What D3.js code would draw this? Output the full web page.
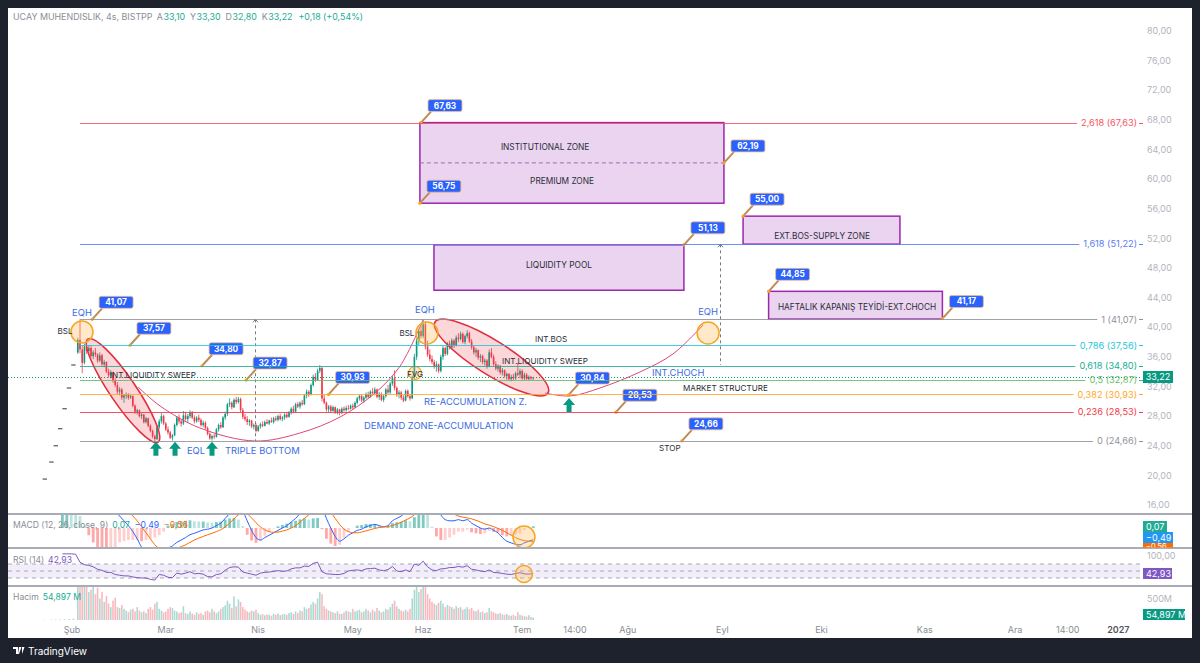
<!DOCTYPE html>
<html><head><meta charset="utf-8">
<script src="https://cdn.jsdelivr.net/npm/d3@7"></script>
<style>
html,body{margin:0;padding:0;background:#1e222d;}
svg{display:block;font-family:Inter,"Noto Sans",sans-serif;}
</style></head><body>
<svg id="c" width="1200" height="663"></svg>
<script>
// ---------------- DATA ----------------
const header = {name:"UCAY MUHENDISLIK, 4s, BISTPP", o:"33,10", h:"33,30", l:"32,80", c:"33,22", chg:"+0,18 (+0,54%)"};
const lastPrice = 33.22;
// sparse pre-listing bars [barIndex, price]
const preBars = [[-16,19.5],[-13,21.8],[-11,24.0],[-9,26.3],[-7,29.0],[-5,31.8],[-3,34.9]];
const preVolume = [6,8,10,12,15,20,28];
const candleStart = -1;
// [open, high, low, close]
const candles = [
[36.6,38.6,36.4,38.3],[38.3,41.07,36.5,37.0],[37.0,37.6,33.8,35.2],[35.2,37.8,35.0,37.4],[37.4,38.0,36.4,36.8],
[36.8,37.6,36.2,37.2],[37.2,37.5,35.9,36.1],[36.1,36.9,35.7,36.6],[36.6,37.2,36.0,36.3],[36.3,36.5,35.2,35.5],
[35.5,36.6,35.3,36.2],[36.2,36.4,34.8,35.0],[35.0,35.6,34.6,35.3],[35.3,35.4,33.8,34.0],[34.0,34.4,33.2,33.5],
[33.5,34.2,33.1,33.9],[33.9,34.0,32.5,32.8],[32.8,33.2,31.9,32.2],[32.2,32.6,31.0,31.3],[31.3,31.9,30.8,31.6],
[31.6,31.8,30.2,30.5],[30.5,31.0,29.8,30.8],[30.8,31.2,30.3,30.9],[30.9,31.1,30.2,30.5],[30.5,31.0,30.3,30.7],
[30.7,30.8,29.2,29.4],[29.4,29.6,28.3,28.6],[28.6,29.0,28.2,28.8],[28.8,28.9,27.8,28.0],[28.0,28.4,27.6,28.2],
[28.2,28.3,27.0,27.2],[27.2,27.9,27.0,27.7],[27.7,27.8,26.5,26.7],[26.7,26.9,25.8,26.0],[26.0,26.2,25.0,25.3],
[25.3,25.5,24.66,24.9],[24.9,26.8,24.8,26.5],[26.5,27.6,26.2,27.3],[27.3,28.4,27.0,28.0],[28.0,28.2,26.8,27.0],
[27.0,27.2,26.0,26.2],[26.2,26.6,25.5,25.8],[25.8,26.0,24.9,25.1],[25.1,25.6,24.7,25.4],[25.4,27.0,25.3,26.8],
[26.8,28.0,26.6,27.8],[27.8,28.2,27.0,27.3],[27.3,27.6,26.6,27.0],[27.0,28.7,26.8,28.1],[28.1,28.6,27.4,27.6],
[27.6,28.3,27.2,28.0],[28.0,28.8,27.7,28.5],[28.5,28.7,27.6,27.8],[27.8,28.1,27.0,27.3],[27.3,28.0,27.1,27.8],
[27.8,28.2,27.2,27.5],[27.5,27.7,26.6,26.8],[26.8,27.4,26.5,27.1],[27.1,27.3,26.2,26.4],[26.4,26.6,25.4,25.6],
[25.6,25.8,24.8,25.0],[25.0,25.5,24.7,25.3],[25.3,25.6,24.9,25.2],[25.2,26.4,25.1,26.2],[26.2,27.0,25.9,26.8],
[26.8,27.2,26.3,26.5],[26.5,28.0,26.4,27.8],[27.8,28.6,27.5,28.3],[28.3,29.8,28.0,29.6],[29.6,30.4,29.2,29.8],
[29.8,30.0,28.9,29.2],[29.2,30.4,29.1,30.2],[30.2,30.6,29.6,29.9],[29.9,30.6,29.7,30.3],[30.3,30.5,28.5,28.8],
[28.8,29.1,27.6,27.9],[27.9,28.3,27.3,27.6],[27.6,28.0,26.8,27.2],[27.2,27.6,26.7,27.4],[27.4,27.5,26.4,26.6],
[26.6,27.0,26.2,26.8],[26.8,27.0,25.8,26.0],[26.0,26.8,25.9,26.6],[26.6,27.1,26.3,26.9],[26.9,27.3,26.5,26.7],
[26.7,27.4,26.6,27.2],[27.2,27.6,26.9,27.0],[27.0,27.5,26.8,27.4],[27.4,27.8,27.1,27.2],[27.2,27.9,27.0,27.7],
[27.7,28.0,27.3,27.5],[27.5,28.2,27.3,28.0],[28.0,28.3,27.4,27.6],[27.6,28.0,27.3,27.8],[27.8,28.4,27.5,28.2],
[28.2,28.5,27.7,27.9],[27.9,28.7,27.8,28.5],[28.5,29.2,28.2,29.0],[29.0,29.4,28.4,28.6],[28.6,29.8,28.5,29.6],
[29.6,29.9,29.1,29.3],[29.3,30.0,29.0,29.8],[29.8,30.2,29.4,29.6],[29.6,31.0,29.5,30.8],[30.8,31.6,30.4,31.3],
[31.3,31.5,30.6,30.9],[30.9,32.4,30.8,32.2],[32.2,33.6,32.0,33.3],[33.3,33.8,32.6,32.9],[32.9,34.4,32.8,34.1],
[34.1,34.9,33.8,34.5],[34.5,34.7,30.0,30.4],[30.4,30.9,29.6,29.8],[29.8,30.0,28.6,28.9],[28.9,29.5,28.5,29.3],
[29.3,29.5,28.4,28.7],[28.7,29.4,28.6,29.2],[29.2,29.3,28.3,28.5],[28.5,29.1,28.2,28.9],[28.9,29.0,28.1,28.4],
[28.4,29.2,28.3,29.0],[29.0,29.3,28.6,28.8],[28.8,29.4,28.6,29.1],[29.1,29.5,28.8,29.0],[29.0,29.6,28.9,29.4],
[29.4,29.7,28.9,29.2],[29.2,30.0,29.1,29.8],[29.8,30.6,29.6,30.4],[30.4,30.9,30.1,30.7],[30.7,30.9,29.9,30.1],
[30.1,30.7,29.8,30.5],[30.5,31.2,30.3,31.0],[31.0,31.3,30.4,30.6],[30.6,31.5,30.5,31.3],[31.3,31.8,30.9,31.1],
[31.1,31.9,30.8,31.6],[31.6,31.7,30.4,30.6],[30.6,31.3,30.2,31.0],[31.0,31.2,30.0,30.2],[30.2,30.9,29.9,30.7],
[30.7,31.8,30.5,31.6],[31.6,32.2,31.0,31.2],[31.2,32.6,31.0,32.4],[32.4,33.4,32.1,33.1],[33.1,34.2,31.5,31.8],
[31.8,32.0,30.6,30.9],[30.9,31.5,30.4,31.2],[31.2,31.4,30.2,30.5],[30.5,30.8,29.9,30.1],[30.1,31.6,30.0,31.4],
[31.4,31.6,30.5,30.7],[30.7,31.0,30.1,30.4],[30.4,33.5,30.3,33.3],[33.3,36.4,33.0,36.0],[36.0,38.5,35.6,38.2],
[38.2,39.8,37.6,39.5],[39.5,40.5,38.5,38.8],[38.8,41.07,38.5,40.4],[40.4,40.8,37.0,37.4],[37.4,38.2,36.0,36.3],
[36.3,37.0,35.4,35.7],[35.7,36.2,35.0,35.3],[35.3,35.6,34.4,34.7],[34.7,35.4,34.0,35.0],[35.0,35.1,33.8,34.1],
[34.1,36.3,33.9,36.0],[36.0,37.5,35.6,37.2],[37.2,37.4,36.1,36.4],[36.4,38.0,36.2,37.8],[37.8,38.2,37.0,37.3],
[37.3,38.5,37.1,38.2],[38.2,38.4,37.2,37.5],[37.5,38.9,37.4,38.6],[38.6,39.2,38.0,38.4],[38.4,39.4,38.2,39.1],
[39.1,39.3,37.8,38.0],[38.0,39.0,37.7,38.8],[38.8,39.6,38.5,39.2],[39.2,39.4,37.9,38.1],[38.1,38.4,37.0,37.3],
[37.3,37.6,36.3,36.6],[36.6,37.2,36.0,36.9],[36.9,37.0,35.6,35.9],[35.9,36.4,35.3,36.1],[36.1,36.3,35.0,35.3],
[35.3,35.8,34.8,35.5],[35.5,35.7,34.4,34.7],[34.7,37.0,34.6,36.6],[36.6,37.2,35.8,36.0],[36.0,36.3,34.8,35.0],
[35.0,35.4,34.2,34.4],[34.4,35.0,34.0,34.8],[34.8,34.9,33.6,33.9],[33.9,34.5,33.5,34.2],[34.2,34.3,33.2,33.4],
[33.4,33.9,32.9,33.7],[33.7,33.8,32.8,33.0],[33.0,33.6,32.7,33.3],[33.3,33.7,32.8,33.1],[33.1,34.0,32.9,33.8],
[33.8,35.2,33.4,33.6],[33.6,34.4,33.1,34.1],[34.1,34.3,32.9,33.1],[33.1,33.9,32.9,33.6],[33.6,33.8,32.9,33.0],
[33.0,33.5,32.8,33.3],[33.3,33.4,32.9,33.1],[33.10,33.30,32.80,33.22]
];
// volume in millions, one per candle
const volume = [
950,1400,1100,800,900,650,700,800,600,750,
500,650,420,560,380,300,450,520,300,280,
350,260,220,180,240,260,200,300,220,180,
200,160,260,300,240,380,420,260,220,180,
200,260,300,280,220,200,160,180,320,160,
140,200,150,120,180,140,160,120,200,220,
180,260,200,160,200,260,300,340,450,380,
280,550,320,480,420,300,240,200,180,220,
200,240,160,120,140,110,130,120,100,140,
120,150,110,130,140,120,160,180,140,200,
160,220,200,300,260,280,360,420,380,500,
650,600,320,260,220,200,180,160,200,150,
140,180,220,200,180,260,200,220,240,180,
200,260,220,180,240,200,280,220,180,200,
260,240,300,380,450,320,260,220,200,240,
200,260,500,700,800,650,720,800,900,600,
500,420,380,350,400,450,380,300,350,320,
300,260,320,280,300,240,260,300,250,280,
220,200,240,180,200,160,180,280,200,180,
150,140,160,130,120,140,110,100,120,90,
180,120,100,90,80,110,70,55
];
// indicators sampled every 2 bars, starting at bar -8
const indStart = -8, indStep = 2;
const macdLine = [2.0,2.4,2.7,2.9,2.8,2.5,2.2,1.9,1.6,1.3,1.1,0.9,0.7,0.5,0.3,0.1,-0.15,-0.45,-0.8,-1.0,-1.2,-1.4,-1.3,-1.1,-0.85,-0.75,-0.6,-0.5,-0.4,-0.28,-0.22,-0.15,-0.08,-0.05,0.0,0.1,0.2,0.4,0.6,0.8,0.9,0.7,0.3,-0.1,-0.4,-0.5,-0.4,-0.3,-0.2,-0.1,0.0,0.1,0.25,0.4,0.6,0.8,0.9,1.1,1.3,0.9,0.4,0.0,-0.35,-0.55,-0.45,-0.3,-0.2,-0.1,-0.05,0.05,0.1,0.15,0.1,0.05,0.1,0.3,0.4,0.5,0.65,0.7,1.0,1.4,1.9,2.0,1.4,0.9,0.55,0.35,0.3,0.3,0.35,0.3,0.35,0.2,0.1,0.0,-0.05,0.0,-0.1,-0.2,-0.4,-0.55,-0.62,-0.68,-0.7,-0.62,-0.55,-0.49];
const signalLine = [1.0,1.4,1.8,2.1,2.3,2.4,2.35,2.25,2.1,1.9,1.7,1.5,1.3,1.1,0.9,0.7,0.5,0.3,0.05,-0.2,-0.45,-0.7,-0.85,-0.95,-0.95,-0.92,-0.85,-0.78,-0.7,-0.6,-0.5,-0.42,-0.35,-0.28,-0.22,-0.15,-0.07,0.05,0.2,0.38,0.55,0.62,0.58,0.42,0.22,0.05,-0.08,-0.15,-0.18,-0.17,-0.13,-0.08,0.0,0.1,0.24,0.4,0.55,0.7,0.88,0.95,0.85,0.65,0.4,0.15,-0.05,-0.15,-0.2,-0.2,-0.17,-0.12,-0.07,-0.02,0.02,0.04,0.06,0.1,0.16,0.24,0.33,0.42,0.55,0.75,1.0,1.25,1.35,1.25,1.05,0.85,0.7,0.58,0.5,0.45,0.42,0.38,0.32,0.25,0.17,0.12,0.06,-0.02,-0.1,-0.2,-0.3,-0.4,-0.48,-0.53,-0.55,-0.56];
const macdHist = [1.0,1.0,0.9,0.8,0.5,0.1,-0.3,-0.6,-0.85,-0.95,-1.0,-0.95,-0.9,-0.6,-0.55,-0.5,-0.5,-0.5,-0.55,-0.5,-0.45,-0.4,-0.3,-0.15,0.1,0.17,0.25,0.28,0.3,0.32,0.28,0.27,0.27,0.23,0.22,0.25,0.27,0.35,0.4,0.42,0.35,0.08,-0.28,-0.52,-0.62,-0.55,-0.32,-0.15,-0.02,0.07,0.13,0.18,0.25,0.3,0.36,0.4,0.35,0.4,0.42,-0.05,-0.45,-0.65,-0.75,-0.7,-0.4,-0.15,0.0,0.1,0.12,0.17,0.17,0.17,0.08,0.01,0.04,0.2,0.24,0.26,0.32,0.28,0.45,0.65,0.9,0.75,0.05,-0.35,-0.5,-0.5,-0.4,-0.28,-0.15,-0.15,-0.07,-0.18,-0.22,-0.25,-0.22,-0.12,-0.16,-0.18,-0.3,-0.35,-0.32,-0.28,-0.22,-0.09,0.0,0.07];
const rsiLine = [99,99,99,98,75,68,66,62,55,52,46,46,40,38,36,36,33,31,30,30,26,24,40,38,32,31,44,41,44,48,42,43,41,34,33,40,42,52,60,62,61,47,44,41,38,44,46,47,49,51,49,50,56,59,59,64,63,72,75,48,42,41,40,40,43,50,52,53,51,56,57,58,53,51,54,63,50,48,53,48,70,66,78,62,53,51,56,57,60,60,63,61,65,55,53,50,48,53,46,45,43,41,40,43,45,42,41,42.93];
const macdLabels = {hist:"0,07", macd:"−0,49", signal:"−0,56"};
const rsiLabel = "42,93", volLabel = "54,897 M";

// Fibonacci levels
const fibRatio = ["2,618","1,618","1","0,786","0,618","0,5","0,382","0,236","0"];
const fibPrice = [67.63,51.22,41.07,37.56,34.80,32.87,30.93,28.53,24.66];
const fibColor = ["#f7525f","#5b7cf0","#8f929b","#26c6da","#22ab94","#66bb6a","#ffa726","#f23645","#8f929b"];

// price axis & time axis
const priceTicks = [80,76,72,68,64,60,56,52,48,44,40,36,32,28,24,20,16];
const timeTickIdx = [-3.6,39,81,124,156,201,225,249,292,337,384,425,449,472];
const timeTickLabel = ["Şub","Mar","Nis","May","Haz","Tem","14:00","Ağu","Eyl","Eki","Kas","Ara","14:00","2027"];

// Annotations (bar index, price)
const priceNotes = [[5.5,41.07],[22.7,37.57],[55.5,34.80],[75.5,32.87],[113,30.93],[155,67.63],[154.5,56.75],[292.7,62.19],[274.5,51.13],[301.4,55.00],[313,44.85],[392,41.17],[222,30.84],[243.6,28.53],[273.6,24.66]];
const zones = [ // [i1, i2, pTop, pBottom]
  [154.5,292.7,67.63,56.75],
  [160.9,274.5,51.13,45.0],
  [301.4,372.7,55.0,51.22],
  [313,392,44.85,41.1]
];
const zoneMid = [154.5,292.7,62.19];
const zoneText = [["INSTITUTIONAL ZONE",211.4,64.34],["PREMIUM ZONE",219.1,59.75],["LIQUIDITY POOL",217.7,48.4],["EXT.BOS-SUPPLY ZONE",337.3,52.32],["HAFTALIK KAPANIŞ TEYİDİ-EXT.CHOCH",353.2,42.73]];
const ellipses = [[3.6,38.41,35.5,24.5],[161.4,40.71,212.7,31.12]];
const cupCurve = [[26.4,31.93],[36.4,29.37],[54.5,26.4],[79.5,24.64],[100,25.72],[118.2,27.88],[134.1,31.12],[145.5,34.77],[155.9,40.98]];
const chochCurve = [[211.4,31.12],[222.7,30.72],[236.4,31.8],[254.5,33.96],[269.5,36.39],[283.2,40.3]];
const circles = [[0.9,39.36],[157.7,39.22],[285.5,39.22]];
const fvgCircle = [152.3,33.82];
const upArrows = [[34.5,24.66],[43.2,24.66],[60,24.66],[222.3,30.58]];
const vLines = [[79.5,41.07,24.66],[290.9,51.2,34.9]];
const darkText = [["BSL",-6.8,39.5,"middle"],["INT.LIQUIDITY SWEEP",13.6,33.55,"start"],["BSL",148.6,39.22,"middle"],["FVG",152.3,33.6,"middle"],["INT.BOS",206.8,38.41,"start"],["INT.LIQUIDITY SWEEP",191.8,35.44,"start"],["MARKET STRUCTURE",274.1,31.8,"start"],["STOP",263.2,23.7,"start"]];
const blueText = [["EQH",0.9,41.9,"middle"],["EQL",52.7,23.3,"middle"],["TRIPLE BOTTOM",65.9,23.3,"start"],["EQH",156.8,42.33,"middle"],["RE-ACCUMULATION Z.",156.4,29.9,"start"],["DEMAND ZONE-ACCUMULATION",129.1,26.67,"start"],["INT.CHOCH",260,33.82,"start"],["EQH",285.5,42.06,"middle"]];

// ---------------- DRAW ----------------
const svg = d3.select('#c');
const fmt = v => v.toFixed(2).replace('.', ',');
svg.append('rect').attr('width',1200).attr('height',663).attr('fill','#1e222d');
svg.append('rect').attr('x',8).attr('y',8).attr('width',1184).attr('height',630).attr('fill','#ffffff');

const x = d3.scaleLinear().domain([-33,480]).range([7.4,1136]);
const y = d3.scaleLinear().domain([16,80]).range([505,31]);
const macdY = d3.scaleLinear().domain([-1,1]).range([552,504]);
const rsiY = d3.scaleLinear().domain([0,100]).range([588.5,553.5]);
const volY = d3.scaleLinear().domain([0,500]).range([620,598.5]);

const defs = svg.append('defs');
function clip(id,x0,y0,w,h){defs.append('clipPath').attr('id',id).append('rect').attr('x',x0).attr('y',y0).attr('width',w).attr('height',h);}
clip('cMain',8,8,1132,505); clip('cMacd',8,515,1132,32); clip('cRsi',8,549,1132,36); clip('cVol',8,587,1132,36);
clip('cMacdAxis',1140,515,52,32.5);

const UP='#089981', DN='#f23645';
const main = svg.append('g').attr('clip-path','url(#cMain)');

// fib lines
const fibG = svg.append('g');
fibPrice.forEach((p,k)=>{
  const t = fibG.append('text').attr('x',1137).attr('y',y(p)).attr('dy','0.35em').attr('text-anchor','end')
    .attr('font-size',9.2).attr('fill',fibColor[k]).text(`${fibRatio[k]} (${fmt(p)})`);
  const w = t.node().getComputedTextLength();
  const yy = Math.round(y(p))+0.5;
  fibG.append('line').attr('x1',x(0)).attr('x2',1137-w-4).attr('y1',yy).attr('y2',yy)
    .attr('stroke',fibColor[k]).attr('stroke-width',1).attr('opacity',0.85);
  fibG.append('line').attr('x1',1139).attr('x2',1143).attr('y1',yy).attr('y2',yy).attr('stroke',fibColor[k]);
});
// last price dotted line
main.append('line').attr('x1',8).attr('x2',1140).attr('y1',Math.round(y(lastPrice))+0.5).attr('y2',Math.round(y(lastPrice))+0.5)
  .attr('stroke',UP).attr('stroke-dasharray','1,2').attr('stroke-width',1);

// pre bars
main.selectAll('.pre').data(preBars).join('line').attr('x1',d=>x(d[0])-2.2).attr('x2',d=>x(d[0])+2.2)
  .attr('y1',d=>y(d[1])).attr('y2',d=>y(d[1])).attr('stroke','#50535e').attr('stroke-width',1.2);
// candles
const cg = main.append('g');
candles.forEach((c,k)=>{
  const i = k+candleStart, col = c[3]>=c[0]?UP:DN, cx=x(i);
  cg.append('line').attr('x1',cx).attr('x2',cx).attr('y1',y(c[1])).attr('y2',y(c[2])).attr('stroke',col).attr('stroke-width',0.8);
  const top = y(Math.max(c[0],c[3])), bot = y(Math.min(c[0],c[3]));
  cg.append('rect').attr('x',cx-0.8).attr('width',1.6).attr('y',top).attr('height',Math.max(0.8,bot-top)).attr('fill',col);
});

// zones
const zg = main.append('g');
zones.forEach(z=>{
  zg.append('rect').attr('x',x(z[0])).attr('y',y(z[2])).attr('width',x(z[1])-x(z[0])).attr('height',y(z[3])-y(z[2]))
    .attr('fill','rgba(156,39,176,0.2)').attr('stroke','#9c27b0').attr('stroke-width',1.5);
});
zg.append('line').attr('x1',x(zoneMid[0])).attr('x2',x(zoneMid[1])).attr('y1',y(zoneMid[2])).attr('y2',y(zoneMid[2]))
  .attr('stroke','#9c6fa8').attr('stroke-dasharray','4,3').attr('stroke-width',1);
zoneText.forEach(t=>zg.append('text').attr('x',x(t[1])).attr('y',y(t[2])).attr('dy','0.35em').attr('text-anchor','middle')
  .attr('font-size',8.3).attr('fill','#2a2e39').text(t[0]));

// ellipses
ellipses.forEach((e,k)=>{
  const x1=x(e[0]),y1=y(e[1]),x2=x(e[2]),y2=y(e[3]);
  const cx=(x1+x2)/2, cy=(y1+y2)/2, a=Math.hypot(x2-x1,y2-y1)/2, ang=Math.atan2(y2-y1,x2-x1)*180/Math.PI;
  main.append('ellipse').attr('cx',0).attr('cy',0).attr('rx',a).attr('ry',k===0?13:17)
    .attr('transform',`translate(${cx},${cy}) rotate(${ang})`)
    .attr('fill','rgba(242,54,69,0.2)').attr('stroke','#e0303e').attr('stroke-width',1.6);
});
// curves
const lineGen = d3.line().x(d=>x(d[0])).y(d=>y(d[1])).curve(d3.curveCatmullRom);
[cupCurve,chochCurve].forEach(c=>main.append('path').attr('d',lineGen(c)).attr('fill','none').attr('stroke','#e0457b').attr('stroke-width',1));
// circles
circles.forEach(c=>main.append('circle').attr('cx',x(c[0])).attr('cy',y(c[1])).attr('r',11)
  .attr('fill','rgba(255,183,77,0.3)').attr('stroke','#f5a623').attr('stroke-width',1.5));
main.append('circle').attr('cx',x(fvgCircle[0])).attr('cy',y(fvgCircle[1])).attr('r',6.5)
  .attr('fill','rgba(255,183,77,0.3)').attr('stroke','#f5a623').attr('stroke-width',1.2);
// vertical dashed
vLines.forEach(v=>{
  const vx=Math.round(x(v[0]))+0.5;
  main.append('line').attr('x1',vx).attr('x2',vx).attr('y1',y(v[1])).attr('y2',y(v[2])).attr('stroke','#787b86').attr('stroke-dasharray','3,3');
  main.append('path').attr('d',`M${vx-2.5},${y(v[1])+3}L${vx},${y(v[1])}L${vx+2.5},${y(v[1])+3}`).attr('fill','none').attr('stroke','#787b86');
});
// arrows
upArrows.forEach(a=>{
  const ax=x(a[0]), ay=y(a[1])+1;
  main.append('path').attr('d',`M${ax},${ay}L${ax+6},${ay+7}L${ax+2.5},${ay+7}L${ax+2.5},${ay+14}L${ax-2.5},${ay+14}L${ax-2.5},${ay+7}L${ax-6},${ay+7}Z`).attr('fill','#089981');
});
// texts
darkText.forEach(t=>main.append('text').attr('x',x(t[1])).attr('y',y(t[2])).attr('dy','0.35em').attr('text-anchor',t[3])
  .attr('font-size',8.1).attr('fill','#2a2e39').text(t[0]));
blueText.forEach(t=>main.append('text').attr('x',x(t[1])).attr('y',y(t[2])).attr('dy','0.35em').attr('text-anchor',t[3])
  .attr('font-size',9.4).attr('fill','#3b6de3').text(t[0]));
// price notes
priceNotes.forEach(n=>{
  const ax=x(n[0]), ay=y(n[1]), bx=ax+7, by=ay-23;
  main.append('line').attr('x1',ax).attr('y1',ay).attr('x2',bx+3).attr('y2',by+12).attr('stroke','#bf8c55').attr('stroke-width',2);
  main.append('rect').attr('x',bx).attr('y',by).attr('width',34).attr('height',12).attr('rx',2)
    .attr('fill','#2962ff').attr('stroke','#f2bd84').attr('stroke-width',0.8);
  main.append('text').attr('x',bx+17).attr('y',by+6).attr('dy','0.35em').attr('text-anchor','middle')
    .attr('font-size',8.3).attr('font-weight',700).attr('fill','#fff').text(fmt(n[1]));
  main.append('circle').attr('cx',ax).attr('cy',ay).attr('r',1.6).attr('fill','#f7a21b');
});

// price axis
const axG = svg.append('g');
priceTicks.forEach(p=>axG.append('text').attr('x',1147).attr('y',y(p)).attr('dy','0.35em').attr('font-size',9).attr('fill','#b2b5be').text(fmt(p)));
axG.append('rect').attr('x',1143).attr('y',Math.round(y(lastPrice))-6).attr('width',30).attr('height',12).attr('fill',UP);
axG.append('text').attr('x',1158).attr('y',Math.round(y(lastPrice))).attr('dy','0.35em').attr('text-anchor','middle').attr('font-size',9).attr('fill','#fff').text(fmt(lastPrice));

// header (flowing text)
const hd = svg.append('text').attr('x',13).attr('y',20).attr('font-size',8.9).attr('fill','#8a8d96');
hd.append('tspan').text(header.name);
[["A",header.o],["Y",header.h],["D",header.l],["K",header.c]].forEach(p=>{
  hd.append('tspan').attr('dx',5).attr('fill','#8a8d96').text(p[0]);
  hd.append('tspan').attr('dx',0.5).attr('fill','#22ab94').text(p[1]);
});
hd.append('tspan').attr('dx',6).attr('fill','#22ab94').text(header.chg);

// separators
[514,548,586].forEach(s=>svg.append('line').attr('x1',8).attr('x2',1192).attr('y1',s).attr('y2',s).attr('stroke','#a9acb5').attr('stroke-width',1.8));

// MACD pane
const mg = svg.append('g').attr('clip-path','url(#cMacd)');
const indX = k => x(indStart + k*indStep);
macdHist.forEach((h,k)=>{
  const prev = k>0?macdHist[k-1]:h;
  const col = h>=0 ? (h>=prev?'rgba(38,166,154,0.6)':'rgba(38,166,154,0.3)') : (h<prev?'rgba(255,82,82,0.5)':'rgba(255,82,82,0.28)');
  const y0=macdY(0), y1=macdY(h);
  mg.append('rect').attr('x',indX(k)-1.4).attr('width',2.8).attr('y',Math.min(y0,y1)).attr('height',Math.abs(y1-y0)).attr('fill',col);
});
const indLine = d3.line().x((d,k)=>indX(k)).curve(d3.curveMonotoneX);
mg.append('path').attr('d',indLine.y(d=>macdY(d))(macdLine)).attr('fill','none').attr('stroke','#2962ff').attr('stroke-width',1);
mg.append('path').attr('d',indLine.y(d=>macdY(d))(signalLine)).attr('fill','none').attr('stroke','#ff6d00').attr('stroke-width',1);
mg.append('circle').attr('cx',x(201.8)).attr('cy',macdY(-0.375)).attr('r',11).attr('fill','rgba(255,183,77,0.3)').attr('stroke','#f5a623').attr('stroke-width',1.5);
const mt = svg.append('text').attr('x',13).attr('y',528).attr('font-size',8.6).attr('fill','#8a8d96');
mt.append('tspan').text("MACD (12, 26, close, 9)");
mt.append('tspan').attr('dx',4).attr('fill','#22ab94').text(macdLabels.hist);
mt.append('tspan').attr('dx',5).attr('fill','#2962ff').text(macdLabels.macd);
mt.append('tspan').attr('dx',5).attr('fill','#ff6d00').text(macdLabels.signal);
const ma = svg.append('g').attr('clip-path','url(#cMacdAxis)');
[[macdLabels.hist,'#22ab94',521,24,9],[macdLabels.macd,'#2196f3',532,30,9],[macdLabels.signal,'#ff6d00',543,30,7.5]].forEach(b=>{
  ma.append('rect').attr('x',1143).attr('y',b[2]).attr('width',b[3]).attr('height',11).attr('fill',b[1]);
  ma.append('text').attr('x',1146).attr('y',b[2]+(b[4]<9?3.5:5.5)).attr('dy','0.35em').attr('font-size',b[4]).attr('fill','#fff').text(b[0]);
});

// RSI pane
const rg = svg.append('g').attr('clip-path','url(#cRsi)');
rg.append('rect').attr('x',8).attr('width',1132).attr('y',rsiY(70)).attr('height',rsiY(30)-rsiY(70)).attr('fill','rgba(126,87,194,0.1)');
[70,50,30].forEach(v=>rg.append('line').attr('x1',8).attr('x2',1140).attr('y1',rsiY(v)).attr('y2',rsiY(v)).attr('stroke','#9598a1').attr('stroke-dasharray','4,4').attr('stroke-width',0.8));
rg.append('path').attr('d',d3.line().x((d,k)=>indX(k)).y(d=>rsiY(d))(rsiLine)).attr('fill','none').attr('stroke','#7e57c2').attr('stroke-width',1);
rg.append('circle').attr('cx',x(201.8)).attr('cy',rsiY(41.4)).attr('r',8.5).attr('fill','rgba(255,183,77,0.3)').attr('stroke','#f5a623').attr('stroke-width',1.5);
const rt = svg.append('text').attr('x',13).attr('y',563).attr('font-size',8.6).attr('fill','#8a8d96');
rt.append('tspan').text("RSI (14)");
rt.append('tspan').attr('dx',4).attr('fill','#7e57c2').text(rsiLabel);
svg.append('text').attr('x',1147).attr('y',556).attr('dy','0.35em').attr('font-size',9).attr('fill','#b2b5be').text("100,00");
svg.append('rect').attr('x',1143).attr('y',rsiY(42.93)-5.5).attr('width',29).attr('height',11).attr('fill','#7e57c2');
svg.append('text').attr('x',1146).attr('y',rsiY(42.93)).attr('dy','0.35em').attr('font-size',9).attr('fill','#fff').text(rsiLabel);

// Volume pane
const vg = svg.append('g').attr('clip-path','url(#cVol)');
preBars.forEach((b,k)=>vg.append('rect').attr('x',x(b[0])-0.8).attr('width',1.6).attr('y',volY(preVolume[k])).attr('height',volY(0)-volY(preVolume[k])).attr('fill','rgba(8,153,129,0.4)'));
volume.forEach((v,k)=>{
  const c=candles[k], col=c[3]>=c[0]?'rgba(8,153,129,0.35)':'rgba(242,54,69,0.35)';
  vg.append('rect').attr('x',x(k+candleStart)-0.8).attr('width',1.6).attr('y',volY(v)).attr('height',volY(0)-volY(v)).attr('fill',col);
});
const vt = svg.append('text').attr('x',13).attr('y',600).attr('font-size',8.6).attr('fill','#8a8d96');
vt.append('tspan').text("Hacim");
vt.append('tspan').attr('dx',4).attr('fill','#22ab94').text(volLabel);
svg.append('text').attr('x',1147).attr('y',volY(500)).attr('dy','0.35em').attr('font-size',9).attr('fill','#b2b5be').text("500M");
svg.append('rect').attr('x',1143).attr('y',609).attr('width',42).attr('height',11).attr('fill',UP);
svg.append('text').attr('x',1146).attr('y',614.5).attr('dy','0.35em').attr('font-size',9).attr('fill','#fff').text(volLabel);

// time axis
timeTickIdx.forEach((t,k)=>svg.append('text').attr('x',x(t)).attr('y',630).attr('dy','0.35em').attr('text-anchor','middle')
  .attr('font-size',9).attr('fill',timeTickLabel[k]==='2027'?'#50535e':'#8a8d96').attr('font-weight',timeTickLabel[k]==='2027'?600:400).text(timeTickLabel[k]));

// footer
const ft = svg.append('g');
ft.append('path').attr('d','M13,647h5v7h-2v-5h-3z M19,647h2.5l-2.5,7h-1z M22,647h2.5l-2.5,7').attr('fill','#ffffff');
ft.append('text').attr('x',28).attr('y',651).attr('dy','0.35em').attr('font-size',10).attr('fill','#ffffff').text('TradingView');
</script>
</body></html>
